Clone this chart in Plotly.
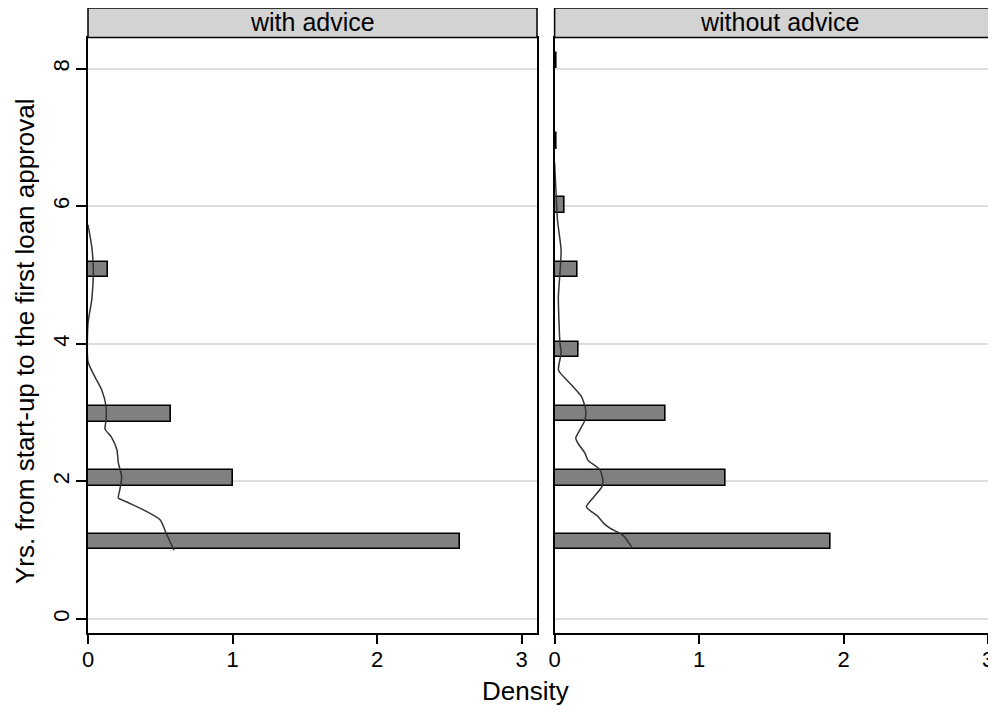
import plotly.graph_objects as go

# ---- data ----
panels = ["with advice", "without advice"]

# histogram bars (horizontal): bin centre (years) and density
years_with = [1.13, 2.05, 2.98, 5.08]
dens_with = [2.574, 1.003, 0.572, 0.138]

years_without = [1.13, 2.05, 2.99, 3.92, 5.08, 6.02, 6.95, 8.12]
dens_without = [1.909, 1.184, 0.769, 0.166, 0.158, 0.072, 0.015, 0.015]

# kernel density curves (years, density)
kde_with_y = [1.0, 1.25, 1.44, 1.58, 1.70, 1.76, 1.875, 2.07, 2.27, 2.46, 2.65, 2.76,
              2.89, 3.09, 3.33, 3.52, 3.74, 4.30, 4.64, 5.07, 5.41, 5.73]
kde_with_x = [0.595, 0.54, 0.50, 0.39, 0.27, 0.21, 0.22, 0.233, 0.21, 0.20, 0.16, 0.118,
              0.125, 0.125, 0.095, 0.048, 0.0, 0.0, 0.026, 0.037, 0.026, 0.0]

kde_without_y = [1.03, 1.22, 1.32, 1.39, 1.49, 1.63, 1.76, 1.92, 2.02, 2.17, 2.31, 2.41,
                 2.56, 2.63, 2.75, 2.89, 3.04, 3.23, 3.38, 3.58, 3.63, 3.87, 4.01, 4.35,
                 4.68, 5.03, 5.36, 5.80, 6.20, 6.63]
kde_without_x = [0.539, 0.472, 0.383, 0.34, 0.30, 0.22, 0.266, 0.327, 0.334, 0.313, 0.23, 0.21,
                 0.16, 0.146, 0.175, 0.21, 0.215, 0.187, 0.127, 0.037, 0.026, 0.045, 0.037, 0.03,
                 0.026, 0.037, 0.045, 0.02, 0.01, 0.0]

xticks = [0, 1, 2, 3]
yticks = [0, 2, 4, 6, 8]
x_title = "Density"
y_title = "Yrs. from start-up to the first loan approval"

FONT = "Liberation Sans, Arial, Helvetica, sans-serif"
BAR_FILL = "#808080"
CURVE = "#333333"
GRID = "#dedede"

fig = go.Figure()

fig.add_trace(go.Bar(y=years_with, x=dens_with, orientation="h", width=0.225,
                     marker=dict(color=BAR_FILL, line=dict(color="black", width=1.6)),
                     xaxis="x", yaxis="y", showlegend=False))
fig.add_trace(go.Scatter(y=kde_with_y, x=kde_with_x, mode="lines",
                         line=dict(color=CURVE, width=1.5, shape="spline", smoothing=0.6),
                         xaxis="x", yaxis="y", showlegend=False))
fig.add_trace(go.Bar(y=years_without, x=dens_without, orientation="h", width=0.225,
                     marker=dict(color=BAR_FILL, line=dict(color="black", width=1.6)),
                     xaxis="x2", yaxis="y2", showlegend=False))
fig.add_trace(go.Scatter(y=kde_without_y, x=kde_without_x, mode="lines",
                         line=dict(color=CURVE, width=1.5, shape="spline", smoothing=0.6),
                         xaxis="x2", yaxis="y2", showlegend=False))

# page has an 8px body margin: figure pixel = page pixel - 8
OFF = 8
W, H = 996 - OFF, 715 - 2 * OFF
ml, mr, mt = 88 - OFF, 0, 38 - OFF
mb = H - (633 - OFF)
plot_w = W - ml - mr
plot_h = H - mt - mb
d1 = [0.0, (537 - 88) / plot_w]
d2 = [(554.6 - 88) / plot_w, 1.0]
yr = [-0.2035, 8.445]
x2max = (996 - 554.6) / 144.5


def px(page_x):
    return (page_x - 88) / plot_w


def py(page_y):
    return (633 - page_y) / plot_h


axis_common = dict(tickvals=xticks, ticks="outside", ticklen=9, tickwidth=1.5,
                   tickcolor="black", showline=True, linecolor="black", linewidth=1.8,
                   showgrid=False, zeroline=False, ticklabelstandoff=-3,
                   tickfont=dict(family=FONT, size=22, color="black"))

fig.update_layout(
    width=W, height=H,
    margin=dict(l=ml, r=mr, t=mt, b=mb),
    paper_bgcolor="white", plot_bgcolor="white",
    bargap=0,
    xaxis=dict(domain=d1, range=[0, 3.107], anchor="y", mirror=True, **axis_common),
    xaxis2=dict(domain=d2, range=[0, x2max], anchor="y2", mirror=True, **axis_common),
    yaxis=dict(range=yr, tickvals=yticks, tickangle=-90, ticks="outside", ticklen=10,
               tickwidth=1.5, tickcolor="black", showline=True, linecolor="black",
               linewidth=1.8, mirror=True, showgrid=True, gridcolor=GRID, gridwidth=1.5,
               zeroline=False, anchor="x", ticklabelstandoff=-2,
               tickfont=dict(family=FONT, size=22, color="black")),
    yaxis2=dict(range=yr, tickvals=yticks, showticklabels=False, ticks="",
                showline=True, linecolor="black", linewidth=1.8, mirror=False,
                showgrid=True, gridcolor=GRID, gridwidth=1.5, zeroline=False, anchor="x2"),
)

# strip headers
hdr_top, hdr_bot = py(OFF), py(37.5)
for dom, name, xc in [(d1, panels[0], (d1[0] + d1[1]) / 2),
                      (d2, panels[1], px(779))]:
    fig.add_shape(type="rect", xref="paper", yref="paper",
                  x0=dom[0], x1=dom[1] + (0.01 if dom[1] >= 1 else 0), y0=hdr_bot, y1=hdr_top,
                  fillcolor="#d3d3d3", line=dict(color="black", width=1.5), layer="above")
    fig.add_annotation(text=name, xref="paper", yref="paper", x=xc, y=py(22),
                       xanchor="center", yanchor="middle", showarrow=False,
                       font=dict(family=FONT, size=25, color="black"))

fig.add_annotation(text=x_title, xref="paper", yref="paper", x=px(525), y=py(691),
                   xanchor="center", yanchor="middle", showarrow=False,
                   font=dict(family=FONT, size=26, color="black"))
fig.add_annotation(text=y_title, xref="paper", yref="paper", x=px(25), y=py(341),
                   xanchor="center", yanchor="middle", showarrow=False, textangle=-90,
                   font=dict(family=FONT, size=26, color="black"))

fig.write_html("out.html")
